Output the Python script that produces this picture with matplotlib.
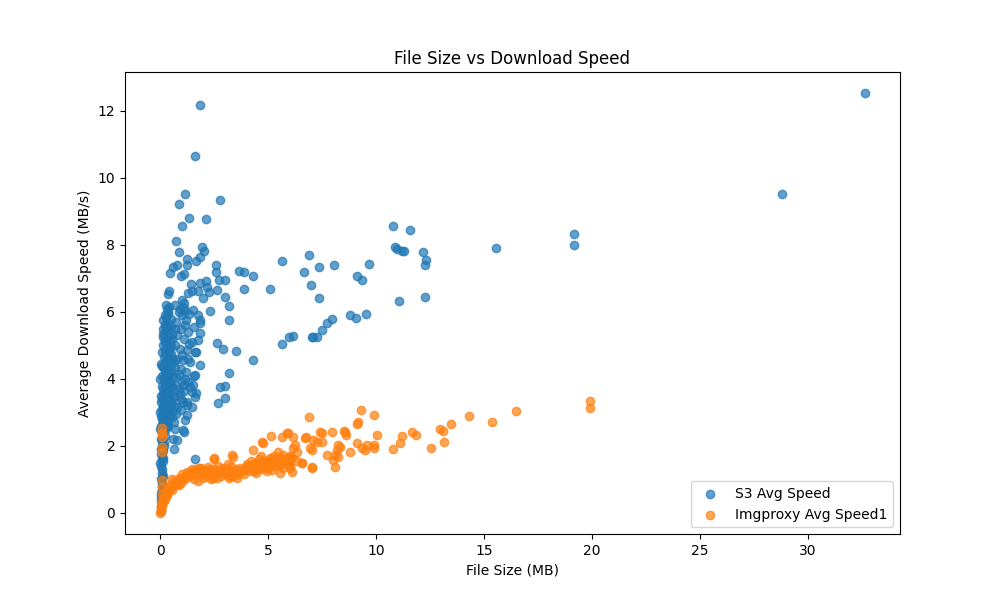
import matplotlib
matplotlib.use("Agg")
import matplotlib.pyplot as plt

# S3 downloads: file size (MB) and average speed (MB/s)
s3_size = [32.65, 28.81, 19.18, 19.18, 15.57,
           12.18, 12.33, 12.28, 12.28, 11.08, 10.8, 11.59, 10.9, 10.95, 11.2, 11.28,
           9.69, 9.12, 9.37, 8.8, 9.09, 9.54, 8.07, 7.38, 6.91, 7.0, 7.38, 6.64,
           7.98, 7.73, 7.52, 7.02, 7.1, 7.25, 5.99, 6.16, 5.66, 5.66, 5.09, 4.29, 4.29,
           3.9, 3.64, 3.9, 3.49, 3.19, 3.19, 3.19, 2.98, 3.0, 2.72, 2.93, 2.65, 2.78, 2.99, 2.7, 3.0,
           2.59, 2.59, 2.61, 2.28, 2.31, 2.15, 2.11, 1.96, 1.82, 1.44, 1.31, 1.47, 1.77,
           1.85, 1.59, 1.13, 0.89, 2.78, 1.34, 2.14, 0.99, 0.74, 0.89, 1.94, 2.05, 1.23, 1.64,
           1.82, 0.8, 0.59, 0.46, 1.25, 0.95, 1.08, 0.39, 0.34,
           1.08, 1.11, 1.17, 1.77, 1.85, 1.85, 1.85, 1.75, 1.67, 1.85, 1.62, 1.54, 1.67, 1.62,
           1.47, 1.23, 1.23, 1.16, 1.08, 0.77, 1.62, 1.08, 0.97, 1.06,
           0.7, 0.85, 1.0, 1.2, 0.75, 0.95, 1.3, 1.55, 0.8, 1.1, 1.45, 0.7, 0.9, 1.25, 1.6,
           0.8, 1.05, 1.4, 0.7, 0.95, 1.2, 1.55, 0.75, 1.0, 1.3, 0.85, 1.1, 1.45, 0.7, 0.95,
           1.25, 0.8, 0.75, 0.65, 0.7, 0.6, 0.62, 1.0, 1.35, 1.5,
           0.9, 1.15, 1.35, 1.0, 1.3, 0.85, 1.15, 1.4, 0.9, 1.05, 0.75, 0.65, 0.7, 0.65,
           0.02, 0.03, 0.05, 0.04, 0.06, 0.03, 0.07, 0.05, 0.08, 0.04, 0.09, 0.06, 0.1, 0.07,
           0.12, 0.05, 0.14, 0.09, 0.16, 0.11, 0.2, 0.08, 0.13, 0.25, 0.18, 0.1, 0.3, 0.22,
           0.15, 0.35, 0.27, 0.12, 0.4, 0.2, 0.32, 0.17, 0.45, 0.25, 0.1, 0.38, 0.2, 0.3,
           0.14, 0.42, 0.24, 0.35, 0.16, 0.28, 0.48, 0.2, 0.38, 0.12, 0.3, 0.45, 0.22, 0.35,
           0.15, 0.28, 0.4, 0.2, 0.33, 0.12, 0.25, 0.38, 0.3, 0.42, 0.2, 0.5, 0.55, 0.5, 0.58,
           0.52, 0.6, 0.55, 0.62, 0.5, 0.6, 0.45, 0.55, 0.35, 0.25, 0.2, 0.18, 0.15, 0.12,
           0.1, 0.09, 0.08, 0.06, 0.02, 0.01, 0.0, 0.01, 0.02, 0.0, 0.05, 0.15, 0.28, 0.4,
           0.1, 0.15, 0.12, 0.18, 0.22, 0.28, 0.3, 0.35, 0.4, 0.45, 0.48, 0.42, 0.38, 0.5,
           0.45, 0.5, 0.4, 0.45, 0.55, 0.48, 0.36, 0.26, 0.15, 0.1, 0.08, 0.06, 0.05, 0.04,
           0.03, 0.04, 0.25, 0.33, 0.27, 0.32, 0.22, 0.26, 0.18, 0.23, 0.3, 0.2]
s3_speed = [12.53, 9.51, 8.32, 7.99, 7.9,
            7.78, 7.55, 7.39, 6.45, 6.33, 8.57, 8.44, 7.93, 7.88, 7.82, 7.81,
            7.43, 7.07, 6.96, 5.91, 5.82, 5.94, 7.39, 7.33, 7.7, 6.8, 6.42, 7.19,
            5.79, 5.68, 5.46, 5.26, 5.26, 5.25, 5.24, 5.28, 5.04, 7.52, 6.69, 7.07, 4.57,
            7.18, 7.22, 6.69, 4.84, 6.18, 5.76, 4.17, 6.43, 6.95, 6.96, 4.88, 5.06, 3.77, 3.79, 3.27, 3.42,
            7.4, 7.18, 6.66, 6.58, 6.03, 6.74, 6.93, 6.41, 6.85, 6.83, 6.56, 6.63, 6.63,
            12.18, 10.66, 9.51, 9.22, 9.34, 8.81, 8.78, 8.57, 8.1, 7.8, 7.95, 7.83, 7.57, 7.53,
            7.63, 7.4, 7.35, 7.17, 7.41, 7.07, 7.12, 6.63, 6.54,
            6.26, 6.13, 6.03, 5.91, 5.76, 5.66, 5.37, 5.16, 4.81, 4.42, 4.12, 3.82, 3.58, 3.47,
            3.17, 3.22, 2.93, 2.78, 2.43, 2.18, 1.6, 3.82, 3.07, 2.48,
            6.2, 6.0, 5.9, 5.75, 5.7, 5.5, 5.4, 5.55, 5.3, 5.2, 5.1, 5.0, 4.9, 4.85, 4.8,
            4.6, 4.55, 4.5, 4.35, 4.3, 4.2, 4.1, 4.05, 3.95, 3.9, 3.7, 3.65, 3.6, 3.45, 3.4,
            3.3, 3.15, 2.95, 2.7, 2.5, 2.2, 1.9, 6.35, 5.95, 6.05,
            6.1, 5.6, 5.05, 4.7, 4.6, 4.15, 4.0, 3.75, 3.55, 3.3, 3.8, 4.5, 5.5, 3.2,
            0.05, 0.2, 0.4, 0.6, 0.8, 1.0, 1.2, 1.4, 1.6, 1.75, 1.9, 2.05, 2.2, 2.35,
            2.5, 2.6, 2.7, 2.8, 2.9, 3.0, 3.05, 3.1, 3.2, 3.2, 3.3, 3.4, 3.35, 3.45,
            3.55, 3.5, 3.6, 3.7, 3.7, 3.8, 3.85, 3.95, 3.9, 4.0, 4.1, 4.1, 4.2, 4.3,
            4.35, 4.4, 4.5, 4.55, 4.65, 4.7, 4.75, 4.85, 4.9, 5.0, 5.05, 5.1, 5.2, 5.3,
            5.35, 5.45, 5.5, 5.6, 5.7, 5.75, 5.85, 5.95, 6.1, 6.15, 5.9, 5.55, 5.2, 4.95, 4.6,
            4.3, 4.05, 3.75, 3.5, 3.25, 3.05, 2.95, 2.85, 2.75, 2.5, 2.3, 2.1, 1.85, 1.55,
            1.3, 1.05, 0.7, 0.3, 0.5, 1.5, 2.5, 3.0, 3.5, 4.0, 4.45, 5.25, 4.15, 3.15,
            0.9, 1.1, 1.65, 2.0, 2.6, 2.9, 3.1, 3.3, 3.45, 3.6, 3.3, 3.0, 2.6, 3.8,
            4.2, 4.5, 4.75, 5.0, 5.35, 5.8, 6.0, 6.2, 5.5, 4.8, 4.4, 3.8, 3.3, 2.9,
            2.2, 1.9, 3.75, 4.05, 4.4, 4.8, 5.1, 5.55, 4.0, 3.55, 2.6, 2.75]

# Imgproxy downloads: file size (MB) and average speed (MB/s)
img_size = [19.91, 19.92, 16.5, 15.38, 14.32, 13.49, 13.12, 12.96, 13.15, 12.57,
            11.68, 11.83, 11.19, 11.11, 10.77, 10.06, 9.91, 9.31, 9.1, 9.18,
            9.9, 9.92, 9.57, 9.49, 9.34, 9.1, 8.8, 8.56, 8.6, 8.53, 7.98, 7.52, 7.41,
            8.25, 8.33, 8.18, 8.1, 8.25, 8.02, 8.09, 7.72, 7.02, 6.91, 6.59, 6.1, 6.02,
            5.17, 4.32, 4.74, 5.14, 5.66, 5.9, 6.17, 6.76, 7.1, 7.25, 7.49, 6.94, 7.02,
            6.25, 6.17, 6.33, 6.02, 5.71, 5.48, 4.71, 5.86, 6.71, 6.56, 7.02, 3.39, 3.33,
            2.51, 2.47,
            3.9, 4.0, 4.1, 4.2, 4.3, 4.4, 4.5, 4.6, 4.7, 4.8, 4.9, 5.0, 5.1, 5.2, 5.3, 5.4,
            5.5, 5.6, 5.7, 5.8, 5.9, 6.0, 6.1, 4.45, 4.95, 5.55, 5.25, 4.65, 6.35,
            0.0, 0.02, 0.05, 0.03, 0.08, 0.1, 0.05, 0.15, 0.2, 0.12, 0.25, 0.3, 0.2, 0.35,
            0.4, 0.3, 0.5, 0.6, 0.45, 0.7, 0.8, 0.65, 0.9, 1.0, 0.85, 1.1, 1.2, 1.0, 1.3,
            1.4, 1.25, 1.5, 1.6, 1.45, 1.7, 1.8, 1.9, 2.0, 2.1, 2.2, 2.3, 2.4, 2.5, 2.6,
            2.8, 2.9, 3.0, 3.1, 3.2, 3.3, 3.4, 3.5, 3.6, 3.7, 3.8, 4.0, 4.2, 4.3, 4.5, 4.6,
            4.8, 5.0, 5.2, 5.4, 5.6, 5.8, 6.0, 1.55, 1.75, 2.05, 2.35, 2.65, 2.95, 3.25,
            3.55, 2.7, 3.15, 1.95, 2.25,
            2.0, 2.2, 2.45, 2.7, 2.85, 3.05, 3.35, 3.65, 3.9, 4.1, 4.35, 4.55, 4.75, 5.05,
            5.35, 5.65, 5.95, 0.55, 0.75, 0.95, 1.15, 1.35, 1.55, 1.75,
            0.08, 0.06, 0.08, 0.08, 0.07, 0.08, 0.08, 0.08, 0.54, 0.46, 0.85]
img_speed = [3.35, 3.12, 3.04, 2.71, 2.9, 2.66, 2.45, 2.5, 2.12, 1.93,
             2.43, 2.33, 2.3, 2.08, 1.9, 2.33, 2.92, 3.07, 2.65, 2.7,
             2.03, 1.93, 2.03, 1.88, 1.93, 2.08, 1.81, 2.43, 2.33, 2.46, 2.43, 2.38, 2.43,
             2.03, 1.98, 1.88, 1.73, 1.68, 1.58, 1.38, 1.73, 1.35, 2.86, 1.48, 1.23, 1.33,
             1.28, 1.88, 2.1, 2.3, 2.28, 2.38, 2.28, 2.28, 2.18, 2.13, 2.13, 1.93, 1.88,
             2.03, 1.93, 1.83, 1.68, 1.73, 1.83, 2.13, 2.38, 2.23, 1.48, 1.38, 1.68, 1.73,
             1.63, 1.6,
             1.3, 1.45, 1.25, 1.55, 1.35, 1.5, 1.4, 1.6, 1.3, 1.45, 1.55, 1.35, 1.65, 1.5, 1.4, 1.6,
             1.45, 1.55, 1.35, 1.6, 1.5, 1.4, 1.65, 1.2, 1.25, 1.2, 1.7, 1.7, 1.55,
             0.0, 0.05, 0.1, 0.15, 0.2, 0.28, 0.3, 0.35, 0.4, 0.45, 0.5, 0.55, 0.6, 0.62,
             0.68, 0.72, 0.75, 0.8, 0.85, 0.88, 0.92, 0.95, 1.0, 1.02, 1.05, 1.08, 1.1, 1.15, 1.15,
             1.2, 1.22, 1.25, 1.27, 1.3, 1.3, 1.33, 1.35, 1.05, 1.1, 1.38, 1.2, 1.15, 1.3, 1.25,
             1.1, 1.35, 1.15, 1.3, 1.05, 1.4, 1.2, 1.3, 1.15, 1.35, 1.25, 1.4, 1.3, 1.45, 1.5, 1.35,
             1.55, 1.45, 1.6, 1.5, 1.65, 1.55, 1.7, 1.0, 0.95, 1.2, 1.0, 1.05, 1.25, 1.1,
             1.05, 1.4, 1.45, 1.25, 1.3,
             1.2, 1.25, 1.05, 1.2, 1.3, 1.25, 1.1, 1.25, 1.15, 1.4, 1.25, 1.3, 1.5, 1.5,
             1.55, 1.45, 1.6, 0.7, 0.85, 0.9, 1.0, 1.1, 1.15, 1.2,
             2.53, 2.4, 2.28, 1.98, 1.83, 0.99, 0.79, 0.57, 1.01, 0.79, 0.84]

fig = plt.figure(figsize=(10, 6))
plt.scatter(s3_size, s3_speed, alpha=0.7, label='S3 Avg Speed')
plt.scatter(img_size, img_speed, alpha=0.7, label='Imgproxy Avg Speed1')
plt.title('File Size vs Download Speed')
plt.xlabel('File Size (MB)')
plt.ylabel('Average Download Speed (MB/s)')
plt.legend(loc='lower right')
plt.savefig('out.png', dpi=100)
